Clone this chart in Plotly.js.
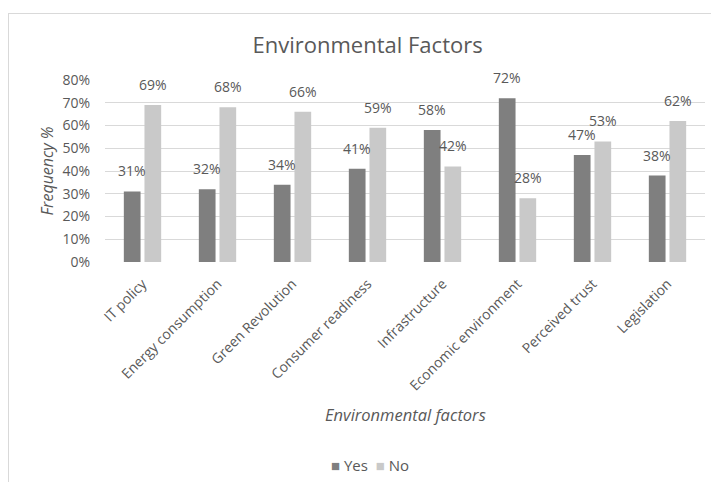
<!DOCTYPE html>
<html><head><meta charset="utf-8">
<script src="https://cdn.plot.ly/plotly-3.0.1.min.js"></script>
<style>
html,body{margin:0;padding:0;background:#fff;}
#frame{position:absolute;left:8px;top:13px;width:710px;height:480px;border:1px solid #d9d9d9;box-sizing:border-box;}
#chart{position:absolute;left:0;top:0;width:711px;height:482px;}
</style></head>
<body>
<div id="frame"></div>
<div id="chart"></div>
<script>
const categories = ["IT policy","Energy consumption","Green Revolution","Consumer readiness","Infrastructure","Economic environment","Perceived trust","Legislation"];
const yesValues = [31,32,34,41,58,72,47,38];
const noValues = [69,68,66,59,42,28,53,62];
const yTickVals = [0,10,20,30,40,50,60,70,80];
const seriesNames = ["Yes","No"];
const seriesColors = ["#7f7f7f","#c9c9c9"];

const fontFam = "'Open Sans', 'Noto Sans', sans-serif";
const txtColor = "#595959";

const traces = [
  {type:'bar', name:seriesNames[0], x:categories, y:yesValues, marker:{color:seriesColors[0]}, hoverinfo:'none'},
  {type:'bar', name:seriesNames[1], x:categories, y:noValues, marker:{color:seriesColors[1]}, hoverinfo:'none'}
];

const bargap = 0.45, bargroupgap = 0.19;
const plotW = 600;
const slot = plotW / categories.length * (1 - bargap) / 2;

const annotations = [];
[yesValues, noValues].forEach((vals, s) => {
  vals.forEach((v, i) => {
    annotations.push({x:categories[i], y:v, xref:'x', yref:'y', text:v+'%', showarrow:false,
      xanchor:'center', yanchor:'bottom', xshift:(s===0?-1:1)*slot/2, yshift:9,
      font:{family:fontFam,size:14,color:txtColor}});
  });
});
annotations.push({text:'<i>Environmental factors</i>', xref:'paper', yref:'paper', x:0.5, y:-0.84,
  xanchor:'center', yanchor:'middle', showarrow:false,
  font:{family:fontFam,size:16.5,color:txtColor}});
// legend
annotations.push({text:'<span style="color:'+seriesColors[0]+'">■</span> '+seriesNames[0]+'  <span style="color:'+seriesColors[1]+'">■</span> '+seriesNames[1],
  xref:'paper', yref:'paper', x:(370-105)/600, y:(262-465)/182, xanchor:'center', yanchor:'middle',
  showarrow:false, font:{family:fontFam,size:15,color:txtColor}});

const layout = {
  width:711, height:482,
  paper_bgcolor:'rgba(0,0,0,0)', plot_bgcolor:'rgba(0,0,0,0)',
  margin:{l:105,r:6,t:80,b:220},
  font:{family:fontFam,color:txtColor,size:14},
  title:{text:'Environmental Factors', x:0.517, xref:'container', y:0.905, yanchor:'middle',
         font:{family:fontFam,size:22,color:txtColor}},
  barmode:'group', bargap:bargap, bargroupgap:bargroupgap,
  showlegend:false,
  xaxis:{tickangle:-45, tickfont:{family:fontFam,size:14,color:txtColor},
         showgrid:false, showline:false, ticks:'', automargin:false, ticklabelstandoff:10},
  yaxis:{range:[0,80], tickvals:yTickVals, ticktext:yTickVals.map(v=>v+'%'),
         tickfont:{family:fontFam,size:14,color:txtColor},
         showgrid:true, gridcolor:'#d9d9d9', gridwidth:1, zeroline:false, showline:false,
         ticks:'', ticklabelstandoff:14, automargin:false,
         title:{text:'<i>Frequency %</i>', font:{family:fontFam,size:16,color:txtColor}, standoff:4}},
  annotations:annotations
};

Plotly.newPlot('chart', traces, layout, {displayModeBar:false, staticPlot:true});
</script>
</body></html>
